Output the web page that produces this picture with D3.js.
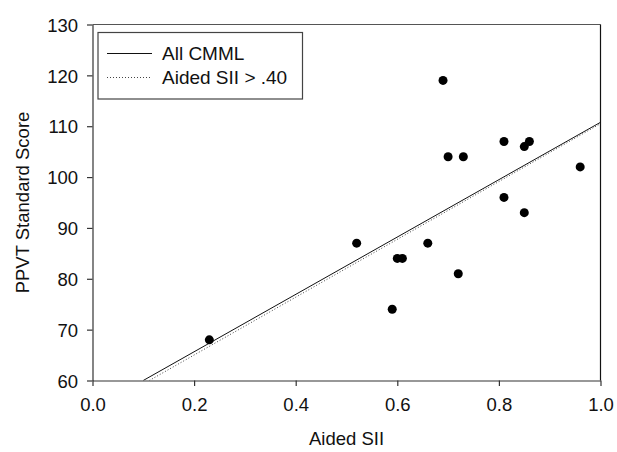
<!DOCTYPE html>
<html>
<head>
<meta charset="utf-8">
<script src="https://cdn.jsdelivr.net/npm/d3@7"></script>
<style>
  html, body { margin: 0; padding: 0; background: #fff; }
  svg { display: block; font-family: "Liberation Sans", Arial, sans-serif; }
</style>
</head>
<body>
<svg id="chart" width="617" height="452"></svg>
<script>
// Aided SII vs PPVT standard score, one child per point
const aidedSII = [0.23, 0.52, 0.59, 0.60, 0.61, 0.66, 0.69, 0.70, 0.72, 0.73, 0.81, 0.81, 0.85, 0.85, 0.86, 0.96];
const ppvtScore = [68, 87, 74, 84, 84, 87, 119, 104, 81, 104, 107, 96, 93, 106, 107, 102];

// Regression fits: [intercept, slope]
const fitAll = [54.37, 56.4];
const fitAbove40 = [53.64, 56.86];

const xTicks = [0.0, 0.2, 0.4, 0.6, 0.8, 1.0];
const yTicks = [60, 70, 80, 90, 100, 110, 120, 130];

const legendLabels = ["All CMML", "Aided SII > .40"];

const svg = d3.select("#chart");
const plotL = 92.5, plotR = 600.5, plotT = 24.5, plotB = 380.5;

const x = d3.scaleLinear().domain([0, 1]).range([plotL, plotR]);
const y = d3.scaleLinear().domain([60, 130]).range([plotB, plotT]);

const FONT = 18.5;

// frame: top and right edges
svg.append("path")
  .attr("d", `M${plotL},${plotT}H${plotR}`)
  .attr("stroke", "#555").attr("stroke-width", 1.2).attr("fill", "none");
svg.append("path")
  .attr("d", `M${plotR},${plotT}V${plotB}`)
  .attr("stroke", "#111").attr("stroke-width", 1.2).attr("fill", "none");

// axes
const xAxis = d3.axisBottom(x).tickValues(xTicks).tickFormat(d3.format(".1f"))
  .tickSizeInner(5.5).tickSizeOuter(0).tickPadding(12);
const yAxis = d3.axisLeft(y).tickValues(yTicks).tickFormat(d3.format("d"))
  .tickSizeInner(5.5).tickSizeOuter(0).tickPadding(9);

const gx = svg.append("g").attr("transform", `translate(0,${plotB})`).call(xAxis);
const gy = svg.append("g").attr("transform", `translate(${plotL},0)`).call(yAxis);

[gx, gy].forEach(g => {
  g.select(".domain").attr("stroke", "#333").attr("stroke-width", 1.2);
  g.selectAll(".tick line").attr("stroke", "#333").attr("stroke-width", 1.2);
  g.selectAll(".tick text")
    .attr("font-family", "'Liberation Sans', Arial, sans-serif")
    .attr("font-size", FONT).attr("fill", "#111");
});
gy.selectAll(".tick text").attr("dy", "0.36em");

// axis titles
svg.append("text")
  .attr("x", (plotL + plotR) / 2).attr("y", 445)
  .attr("text-anchor", "middle").attr("font-size", FONT).attr("fill", "#111")
  .text("Aided SII");
svg.append("text")
  .attr("transform", `translate(29,${(plotT + plotB) / 2}) rotate(-90)`)
  .attr("text-anchor", "middle").attr("font-size", FONT).attr("fill", "#111")
  .text("PPVT Standard Score");

// regression lines, clipped to the plot area
svg.append("clipPath").attr("id", "plotClip")
  .append("rect").attr("x", plotL).attr("y", plotT)
  .attr("width", plotR - plotL).attr("height", plotB - plotT);

function fitSegment(fit) {
  const [a, b] = fit;
  const x0 = (60 - a) / b;
  return [[x0, 60], [1, a + b]];
}
const line = d3.line().x(d => x(d[0])).y(d => y(d[1]));

svg.append("path")
  .attr("clip-path", "url(#plotClip)")
  .attr("d", line(fitSegment(fitAbove40)))
  .attr("stroke", "#444").attr("stroke-width", 1)
  .attr("stroke-dasharray", "1,2").attr("fill", "none");
svg.append("path")
  .attr("clip-path", "url(#plotClip)")
  .attr("d", line(fitSegment(fitAll)))
  .attr("stroke", "#111").attr("stroke-width", 1).attr("fill", "none");

// data points
svg.append("g").selectAll("circle")
  .data(aidedSII.map((v, i) => [v, ppvtScore[i]]))
  .join("circle")
  .attr("cx", d => x(d[0])).attr("cy", d => y(d[1]))
  .attr("r", 4.5).attr("fill", "#000");

// legend
const lg = svg.append("g");
lg.append("rect")
  .attr("x", 98).attr("y", 32.5).attr("width", 204.5).attr("height", 66.5)
  .attr("fill", "#fff").attr("stroke", "#444").attr("stroke-width", 1.2);
const rowsY = [53.5, 77.5];
legendLabels.forEach((label, i) => {
  lg.append("line")
    .attr("x1", 107).attr("x2", 152).attr("y1", rowsY[i]).attr("y2", rowsY[i])
    .attr("stroke", i === 0 ? "#111" : "#444").attr("stroke-width", 1)
    .attr("stroke-dasharray", i === 0 ? null : "1,2");
  lg.append("text")
    .attr("x", 162).attr("y", rowsY[i]).attr("dy", "0.33em")
    .attr("font-size", FONT + 0.5).attr("fill", "#111")
    .text(label);
});
</script>
</body>
</html>
